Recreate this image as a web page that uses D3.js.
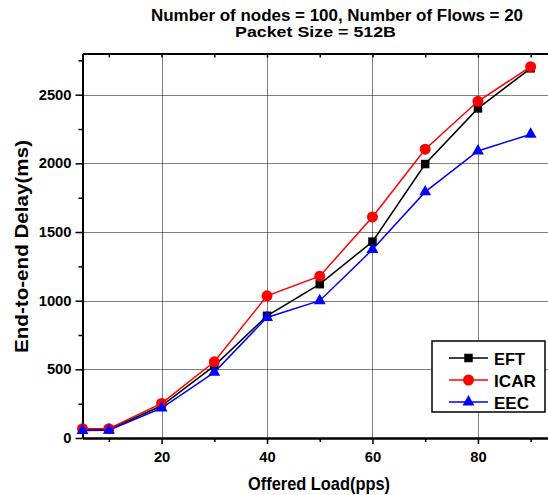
<!DOCTYPE html>
<html>
<head>
<meta charset="utf-8">
<script src="https://cdn.jsdelivr.net/npm/d3@7"></script>
<style>
  body { margin: 0; background: #fff; }
  text { font-family: "Liberation Sans", Arial, sans-serif; }
</style>
</head>
<body>
<div id="chart"></div>
<script>
// data
var load = [5, 10, 20, 30, 40, 50, 60, 70, 80, 90];
var eft  = [60, 62, 235, 525, 890, 1120, 1430, 1995, 2400, 2692];
var icar = [68, 68, 252, 555, 1035, 1178, 1610, 2103, 2452, 2704];
var eec  = [55, 57, 218, 478, 878, 1000, 1372, 1792, 2090, 2212];
var seriesNames = ["EFT", "ICAR", "EEC"];
var xMajor = [20, 40, 60, 80];
var xMinor = [10, 30, 50, 70, 90];
var yMajor = [0, 500, 1000, 1500, 2000, 2500];
var yMinor = [250, 750, 1250, 1750, 2250, 2750];

var width = 548, height = 495;
var plot = { left: 82.5, top: 53.5, right: 557, bottom: 438 };

var svg = d3.select("#chart")
    .append("svg")
    .attr("width", width)
    .attr("height", height);

var x = d3.scaleLinear().domain([5, 95]).range([plot.left, plot.right]);
var y = d3.scaleLinear().domain([0, 2800]).range([plot.bottom, plot.top]);

// dotted grid
svg.append("g").selectAll("line")
    .data(xMajor)
    .enter().append("line")
    .attr("x1", function (d) { return Math.round(x(d)) + 0.5; })
    .attr("x2", function (d) { return Math.round(x(d)) + 0.5; })
    .attr("y1", plot.top)
    .attr("y2", plot.bottom)
    .attr("stroke", "#000")
    .attr("stroke-width", 1)
    .attr("stroke-dasharray", "1,1");

svg.append("g").selectAll("line")
    .data(yMajor.slice(1))
    .enter().append("line")
    .attr("x1", plot.left)
    .attr("x2", plot.right)
    .attr("y1", function (d) { return Math.round(y(d)) + 0.5; })
    .attr("y2", function (d) { return Math.round(y(d)) + 0.5; })
    .attr("stroke", "#000")
    .attr("stroke-width", 1)
    .attr("stroke-dasharray", "1,1");

// axes
function styleAxis(g) {
    g.select(".domain").attr("stroke-width", 2);
    g.selectAll(".tick line").attr("stroke-width", 1.5);
    g.selectAll("text")
        .style("font-family", "'Liberation Sans', Arial, sans-serif")
        .style("font-size", "14px")
        .style("font-weight", "bold")
        .attr("fill", "#000")
        .attr("textLength", function (d) { return String(d).length * 8.2; })
        .attr("lengthAdjust", "spacingAndGlyphs");
}

svg.append("g")
    .attr("transform", "translate(0," + plot.bottom + ")")
    .call(d3.axisBottom(x).tickValues(xMinor).tickSize(4).tickSizeOuter(0).tickFormat(""))
    .call(styleAxis);
svg.append("g")
    .attr("transform", "translate(0," + plot.bottom + ")")
    .call(d3.axisBottom(x).tickValues(xMajor).tickSize(6).tickSizeOuter(0).tickPadding(8).tickFormat(d3.format("d")))
    .call(styleAxis);

svg.append("g")
    .attr("transform", "translate(0," + plot.top + ")")
    .call(d3.axisTop(x).tickValues(xMinor.concat(xMajor)).tickSize(-4).tickSizeOuter(0).tickFormat(""))
    .call(styleAxis);

svg.append("g")
    .attr("transform", "translate(" + plot.left + ",0)")
    .call(d3.axisLeft(y).tickValues(yMinor).tickSize(4).tickSizeOuter(0).tickFormat(""))
    .call(styleAxis);
svg.append("g")
    .attr("transform", "translate(" + plot.left + ",0)")
    .call(d3.axisLeft(y).tickValues(yMajor).tickSize(7).tickSizeOuter(0).tickPadding(4).tickFormat(d3.format("d")))
    .call(styleAxis);

// series
var series = [
    { name: seriesNames[0], values: eft,  color: "#000000", symbol: d3.symbolSquare,   size: 72, w: 31 },
    { name: seriesNames[1], values: icar, color: "#ff0000", symbol: d3.symbolCircle,   size: 95, w: 42 },
    { name: seriesNames[2], values: eec,  color: "#0000ff", symbol: d3.symbolTriangle, size: 62, w: 35 }
];

var line = d3.line()
    .x(function (d, i) { return x(load[i]); })
    .y(function (d) { return y(d); });

series.forEach(function (s) {
    svg.append("path")
        .datum(s.values)
        .attr("fill", "none")
        .attr("stroke", s.color)
        .attr("stroke-width", 1.5)
        .attr("d", line);
    svg.append("g").selectAll("path")
        .data(s.values)
        .enter().append("path")
        .attr("transform", function (d, i) { return "translate(" + x(load[i]) + "," + y(d) + ")"; })
        .attr("d", d3.symbol().type(s.symbol).size(s.size))
        .attr("fill", s.color);
});

// legend
var legend = svg.append("g").attr("transform", "translate(432,341)");
legend.append("rect")
    .attr("width", 113).attr("height", 71)
    .attr("fill", "#fff")
    .attr("stroke", "#000")
    .attr("stroke-width", 1.5);
series.forEach(function (s, i) {
    var row = legend.append("g").attr("transform", "translate(0," + (17 + i * 22) + ")");
    row.append("line")
        .attr("x1", 17).attr("x2", 56)
        .attr("stroke", s.color).attr("stroke-width", 1.5);
    row.append("path")
        .attr("transform", "translate(36.5,0)")
        .attr("d", d3.symbol().type(s.symbol).size(s.size))
        .attr("fill", s.color);
    row.append("text")
        .attr("x", 62).attr("y", 6.5)
        .style("font-size", "17px").style("font-weight", "bold")
        .attr("textLength", s.w).attr("lengthAdjust", "spacingAndGlyphs")
        .text(s.name);
});

// titles
svg.append("text")
    .attr("x", 151).attr("y", 21)
    .style("font-size", "16px").style("font-weight", "bold")
    .attr("textLength", 372).attr("lengthAdjust", "spacingAndGlyphs")
    .text("Number of nodes = 100, Number of Flows = 20");
svg.append("text")
    .attr("x", 235).attr("y", 36.5)
    .style("font-size", "15px").style("font-weight", "bold")
    .attr("textLength", 161).attr("lengthAdjust", "spacingAndGlyphs")
    .text("Packet Size = 512B");

svg.append("text")
    .attr("x", 248).attr("y", 490)
    .style("font-size", "18px").style("font-weight", "bold")
    .attr("textLength", 142).attr("lengthAdjust", "spacingAndGlyphs")
    .text("Offered Load(pps)");

svg.append("text")
    .attr("transform", "translate(28,353) rotate(-90)")
    .style("font-size", "18px").style("font-weight", "bold")
    .attr("textLength", 213).attr("lengthAdjust", "spacingAndGlyphs")
    .text("End-to-end Delay(ms)");
</script>
</body>
</html>
